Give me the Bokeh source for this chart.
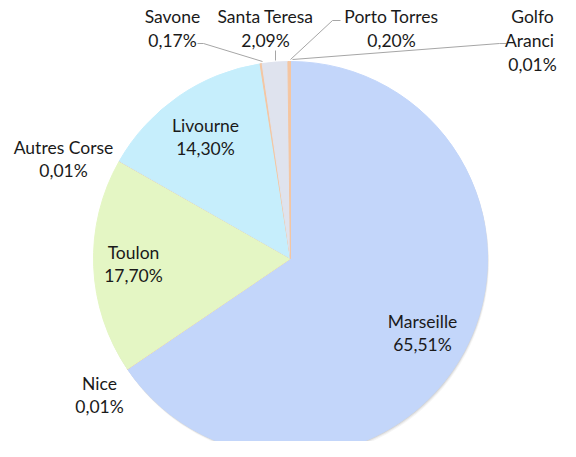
import numpy as np
from bokeh.plotting import figure
from bokeh.models import Range1d, ColumnDataSource
from bokeh.embed import file_html
from bokeh.resources import INLINE
from bokeh.core.properties import value

# ---- data ----
ports = ["Marseille", "Nice", "Toulon", "Autres Corse", "Livourne",
         "Savone", "Santa Teresa", "Porto Torres", "Golfo Aranci"]
shares = [65.51, 0.01, 17.70, 0.01, 14.30, 0.17, 2.09, 0.20, 0.01]
pct_labels = ["65,51%", "0,01%", "17,70%", "0,01%", "14,30%",
              "0,17%", "2,09%", "0,20%", "0,01%"]

# ---- styles / layout ----
colors = ["#c3d6fa", "#f4c6a2", "#e4f6c4", "#f4c6a2", "#c6eefc",
          "#f4c6a2", "#dfe3ee", "#f4c6a2", "#f4c6a2"]

W, H = 560, 441
PAGE_H = 457

def py(y):  # image y -> data y
    return PAGE_H - y

cx, cy, R = 290, py(258), 197

# label anchor positions (image coords): x, name line y, pct line y
label_pos = {
    "Marseille": (422, 321, 344),
    "Nice": (99, 383, 406),
    "Toulon": (133, 252, 275),
    "Autres Corse": (63, 147, 170),
    "Livourne": (205, 125, 148),
    "Savone": (172, 16, 40),
    "Santa Teresa": (265, 16, 40),
    "Porto Torres": (391, 16, 40),
}

p = figure(width=W, height=H, x_range=Range1d(0, W), y_range=Range1d(PAGE_H - H, PAGE_H),
           output_backend="svg", toolbar_location=None, min_border=0)
p.axis.visible = False
p.grid.visible = False
p.outline_line_color = None
p.background_fill_color = "white"

frac = np.array(shares) / sum(shares)
cum = np.cumsum(frac)
a0 = cum - frac
a1 = cum
start = np.pi / 2 - 2 * np.pi * a1
end = np.pi / 2 - 2 * np.pi * a0

# soft shadow
for off, alpha in [(3, 0.08), (2, 0.12), (1, 0.18)]:
    p.circle(x=cx + off * 0.5, y=cy - off, radius=R, radius_units="screen",
             fill_color="#808080", fill_alpha=alpha, line_color=None)

src = ColumnDataSource(dict(start=start, end=end, color=colors))
p.wedge(x=cx, y=cy, radius=R, radius_units="screen", start_angle="start", end_angle="end",
        fill_color="color", line_color="color", line_width=1, source=src)

# leader lines (image coords)
leaders = [
    ([197, 203, 262], [43, 43, 61]),      # Savone
    ([275, 275], [50, 60]),               # Santa Teresa
    ([340, 332, 290], [20, 20, 59]),      # Porto Torres
    ([506, 499, 292], [43, 43, 59]),      # Golfo Aranci
]
for xs, ys in leaders:
    p.line(x=xs, y=[py(v) for v in ys], line_color="#a6a6a6", line_width=1)

font = value("Lato")
fs = "17.5px"
tx, ty, tt = [], [], []
for name, pct in zip(ports, pct_labels):
    if name in label_pos:
        x, y1, y2 = label_pos[name]
        tx += [x, x]
        ty += [py(y1), py(y2)]
        tt += [name, pct]
p.text(x=tx, y=ty, text=tt, text_font=font, text_font_size=fs, text_align="center",
       text_baseline="middle", text_color="#1a1a1a")

# Golfo Aranci (three lines)
p.text(x=[532, 529, 532], y=[py(16), py(40), py(64)], text=["Golfo", "Aranci", pct_labels[8]],
       text_font=font, text_font_size=fs, text_align="center", text_baseline="middle",
       text_color="#1a1a1a")

open("out.html", "w").write(file_html(p, INLINE))
